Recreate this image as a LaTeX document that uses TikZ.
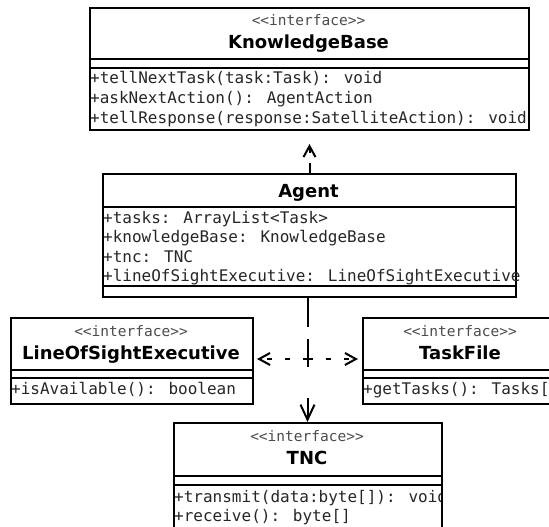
\documentclass[tikz,border=0pt]{standalone}
\usepackage{fontspec}
\setmainfont{DejaVu Sans}
\newfontfamily\monof{DejaVu Sans Mono}
\usetikzlibrary{arrows.meta}
\begin{document}
\begin{tikzpicture}[x=1pt,y=-1pt,
  box/.style={draw=black, line width=2pt, fill=white, inner sep=0pt, anchor=north west},
  sep/.style={line width=2pt},
  stereo/.style={font=\monof\fontsize{14.5}{14.5}\selectfont, text=black!70, anchor=base, inner sep=0pt},
  cname/.style={font=\bfseries\fontsize{18}{18}\selectfont, anchor=base, inner sep=0pt},
  member/.style={font=\monof\fontsize{16}{16}\selectfont, text=black!85, anchor=base west, inner sep=0pt},
  dep/.style={line width=2pt, -{Straight Barb[length=11pt,width=12pt]}},
  bigdep/.style={line width=2pt, -{Straight Barb[length=15pt,width=14pt]}}
]
\clip (0,0) rectangle (549,527);
\fill[white] (0,0) rectangle (549,527);

% KnowledgeBase
\node[box, minimum width=439pt, minimum height=122pt] (kb) at (89,7) {};
\draw[sep] (89,59) -- (528,59);
\draw[sep] (89,68) -- (528,68);
\node[stereo] (kbs) at (308.5,26) {<<interface>>};
\node[cname] (kbn) at (308.5,49) {KnowledgeBase};
\node[member] (kbm1) at (90,84) {+tellNextTask(task:Task): void};
\node[member] (kbm2) at (90,103.5) {+askNextAction(): AgentAction};
\node[member] (kbm3) at (90,123) {+tellResponse(response:SatelliteAction): void};

% Agent
\node[box, minimum width=413pt, minimum height=123pt] (agent) at (102,173) {};
\draw[sep] (102,207) -- (515,207);
\draw[sep] (102,286) -- (515,286);
\node[cname] (agn) at (308.5,197) {Agent};
\node[member] (aga1) at (103,223) {+tasks: ArrayList<Task>};
\node[member] (aga2) at (103,242.5) {+knowledgeBase: KnowledgeBase};
\node[member] (aga3) at (103,262) {+tnc: TNC};
\node[member] (aga4) at (103,281.5) {+lineOfSightExecutive: LineOfSightExecutive};

% LineOfSightExecutive
\node[box, minimum width=242pt, minimum height=86pt] (lose) at (10,317) {};
\draw[sep] (10,369.5) -- (252,369.5);
\draw[sep] (10,378) -- (252,378);
\node[stereo] (loses) at (131,336) {<<interface>>};
\node[cname] (losen) at (131,359) {LineOfSightExecutive};
\node[member] (losem) at (11,394) {+isAvailable(): boolean};

% TaskFile
\node[box, minimum width=196pt, minimum height=86pt] (tf) at (362,317) {};
\draw[sep] (362,369.5) -- (558,369.5);
\draw[sep] (362,378) -- (558,378);
\node[stereo] (tfs) at (460,336) {<<interface>>};
\node[cname] (tfn) at (460,359) {TaskFile};
\node[member] (tfm) at (363,394) {+getTasks(): Tasks[]};

% TNC
\node[box, minimum width=268pt, minimum height=108pt] (tnc) at (173,422) {};
\draw[sep] (173,476) -- (441,476);
\draw[sep] (173,485) -- (441,485);
\node[stereo] (tncs) at (307,441) {<<interface>>};
\node[cname] (tncn) at (307,464) {TNC};
\begin{scope}
\clip (174,486) rectangle (440,529);
\node[member] (tncm1) at (174,502) {+transmit(data:byte[]): void};
\node[member] (tncm2) at (174,521) {+receive(): byte[]};
\end{scope}

% connectors
\coordinate (j) at (307.5,359);
\draw[dep, dash pattern=on 10pt off 10pt, shorten >=13pt] (agent.north) -- (kb.south);
\draw[line width=2pt, dash pattern=on 29pt off 12pt] (j |- agent.south) -- (j);
\draw[bigdep, dash pattern=on 8pt off 31pt on 30pt off 0pt] (j) -- (j |- tnc.north);
\draw[dep, dash pattern=on 5pt off 13pt, shorten >=3pt] (j) -- (j -| lose.east);
\draw[dep, dash pattern=on 5pt off 13pt, shorten >=4pt] (j) -- (j -| tf.west);
\end{tikzpicture}
\end{document}
